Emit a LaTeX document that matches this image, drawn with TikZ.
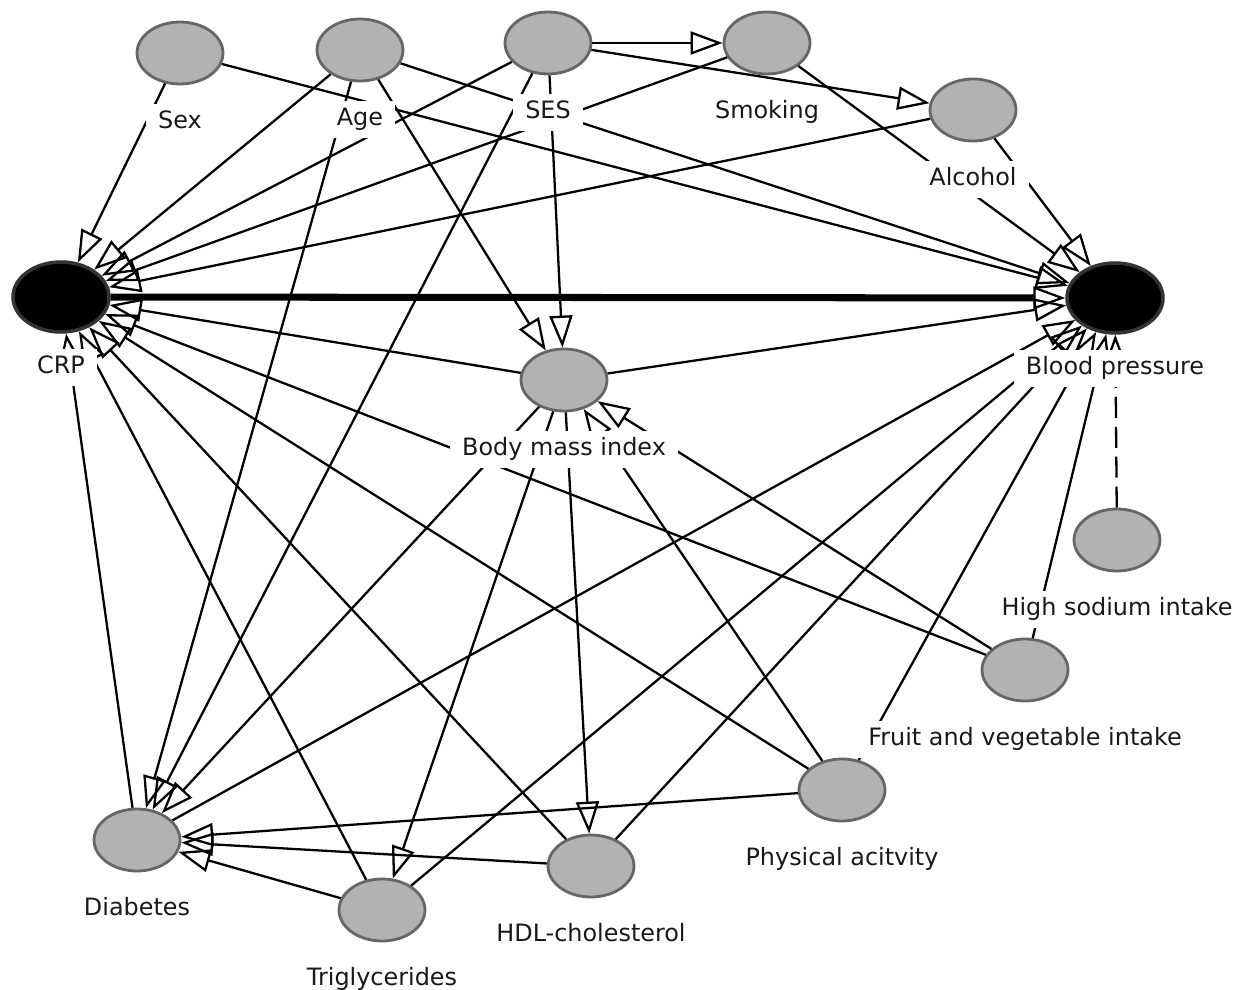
\documentclass[tikz,border=0pt]{standalone}
\usepackage{fontspec}
\setmainfont{DejaVu Sans}
\usetikzlibrary{positioning,shapes.geometric,arrows.meta}

\tikzset{
    var/.style={ellipse,draw=black!60,fill=black!30,line width=1.6pt,
        minimum width=1.72cm,minimum height=1.24cm,inner sep=0pt},
    focus/.style={ellipse,draw=black!80,fill=black,line width=2pt,
        minimum width=1.92cm,minimum height=1.4cm,inner sep=0pt},
    causes/.style={line width=1.3pt,
        -{Triangle[open,length=0.64cm,width=0.46cm]}},
    mainpath/.style={line width=4pt,
        -{Triangle[open,length=0.64cm,width=0.46cm,line width=1.3pt]}},
    lbl/.style={fill=white,inner xsep=7pt,inner ysep=4pt,text height=10pt,
        text depth=3pt,text=black!90,font=\fontsize{13.6}{16}\selectfont}
}

\begin{document}
\begin{tikzpicture}[x=0.02cm,y=-0.02cm,node distance=0.36cm]
    \useasboundingbox (0,0) rectangle (1245,990);

    \node[var] (sex) at (180,53) {};
    \node[var] (age) at (360,50) {};
    \node[var] (ses) at (548,43) {};
    \node[var] (smoking) at (767,43) {};
    \node[var] (alcohol) at (973,110) {};
    \node[focus] (crp) at (61,297) {};
    \node[focus] (bp) at (1115,298) {};
    \node[var] (bmi) at (564,380) {};
    \node[var] (sodium) at (1117,540) {};
    \node[var] (fruit) at (1025,670) {};
    \node[var] (activity) at (842,790) {};
    \node[var] (hdl) at (591,866) {};
    \node[var] (trig) at (382,910) {};
    \node[var] (diabetes) at (137,840) {};

    \draw[mainpath] (crp) -- (bp);
    \foreach \from/\to in {sex/crp, sex/bp, age/crp, age/bp, age/bmi, age/diabetes,
            ses/smoking, ses/alcohol, ses/crp, ses/bmi, ses/diabetes,
            smoking/crp, smoking/bp, alcohol/crp, alcohol/bp,
            bmi/crp, bmi/bp, bmi/diabetes, bmi/trig, bmi/hdl,
            fruit/bmi, activity/bmi, fruit/crp, activity/crp, hdl/crp, trig/crp,
            diabetes/crp, diabetes/bp, trig/bp, hdl/bp, activity/bp, fruit/bp,
            activity/diabetes, hdl/diabetes, trig/diabetes}
        \draw[causes] (\from) -- (\to);
    \draw[causes,dash pattern=on 12pt off 5pt] (sodium) -- (bp);

    \node[lbl,below=of sex] (sexL) {Sex};
    \node[lbl,below=of age] (ageL) {Age};
    \node[lbl,below=of ses] (sesL) {SES};
    \node[lbl,below=of smoking] (smokingL) {Smoking};
    \node[lbl,below=of alcohol] (alcoholL) {Alcohol};
    \node[lbl,below=0.3cm of crp] (crpL) {CRP};
    \node[lbl,below=0.3cm of bp] (bpL) {Blood pressure};
    \node[lbl,below=of bmi] (bmiL) {Body mass index};
    \node[lbl,below=of sodium] (sodiumL) {High sodium intake};
    \node[lbl,below=of fruit] (fruitL) {Fruit and vegetable intake};
    \node[lbl,below=of activity] (activityL) {Physical acitvity};
    \node[lbl,below=of hdl] (hdlL) {HDL-cholesterol};
    \node[lbl,below=of trig] (trigL) {Triglycerides};
    \node[lbl,below=of diabetes] (diabetesL) {Diabetes};
\end{tikzpicture}
\end{document}
